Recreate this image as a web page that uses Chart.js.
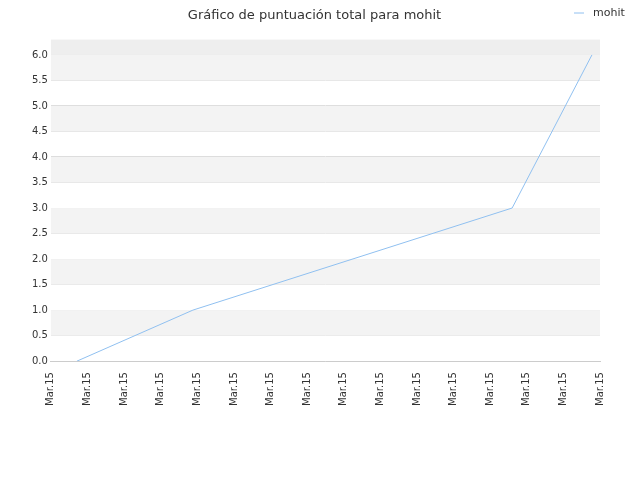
<!DOCTYPE html>
<html><head><meta charset="utf-8">
<script src="https://cdn.jsdelivr.net/npm/chart.js@4/dist/chart.umd.min.js"></script>
<style>body{margin:0;background:#fff}#w{width:640px;height:480px}</style></head>
<body><div id="w"><canvas id="c"></canvas></div>
<script>
const xValues=[0.71,3.88,12.6,14.78];
const yValues=[0,1.0,3.0,6.0];
const tickLabel="Mar.15";
const bands={id:'bands',beforeDatasetsDraw(ch){const {ctx,chartArea:a,scales:{y}}=ch;ctx.save();
for(let v=0.5;v<6;v+=1){const t=y.getPixelForValue(v+0.5),b=y.getPixelForValue(v);ctx.fillStyle='#f3f3f3';ctx.fillRect(a.left,t,a.right-a.left,b-t);}
const t6=y.getPixelForValue(6);ctx.fillStyle='#eeeeee';ctx.fillRect(a.left,a.top,a.right-a.left,t6-a.top);ctx.restore();}};
new Chart(document.getElementById('c'),{type:'line',
data:{datasets:[{label:'mohit',data:xValues.map((x,i)=>({x,y:yValues[i]})),borderColor:'#90c0f0',backgroundColor:'#90c0f0',borderWidth:1,pointRadius:0,tension:0}]},
options:{responsive:true,maintainAspectRatio:false,animation:false,
layout:{padding:{left:29,right:40,bottom:71,top:2}},
plugins:{title:{display:true,text:'Gráfico de puntuación total para mohit',color:'#333',font:{family:'DejaVu Sans',size:13,weight:'normal'},padding:{top:6,bottom:16}},
legend:{display:false}},
scales:{x:{type:'linear',min:0,max:15,ticks:{stepSize:1,callback:()=>tickLabel,maxRotation:90,minRotation:90,color:'#333',font:{family:'DejaVu Sans',size:10}},grid:{display:false},border:{color:'#ccc'}},
y:{min:0,max:6.3,ticks:{stepSize:0.5,callback:v=>v.toFixed(1),color:'#333',font:{family:'DejaVu Sans',size:10},includeBounds:false},grid:{color:'#dddddd',drawTicks:false},border:{display:false}}}},
plugins:[bands,{id:'leg',afterDraw(ch){const c=ch.ctx;c.save();c.strokeStyle='#90c0f0';c.beginPath();c.moveTo(574,13);c.lineTo(584,13);c.stroke();c.fillStyle='#333';c.font='11px DejaVu Sans';c.textBaseline='middle';c.fillText('mohit',593,13);c.restore();}}]});
</script></body></html>
